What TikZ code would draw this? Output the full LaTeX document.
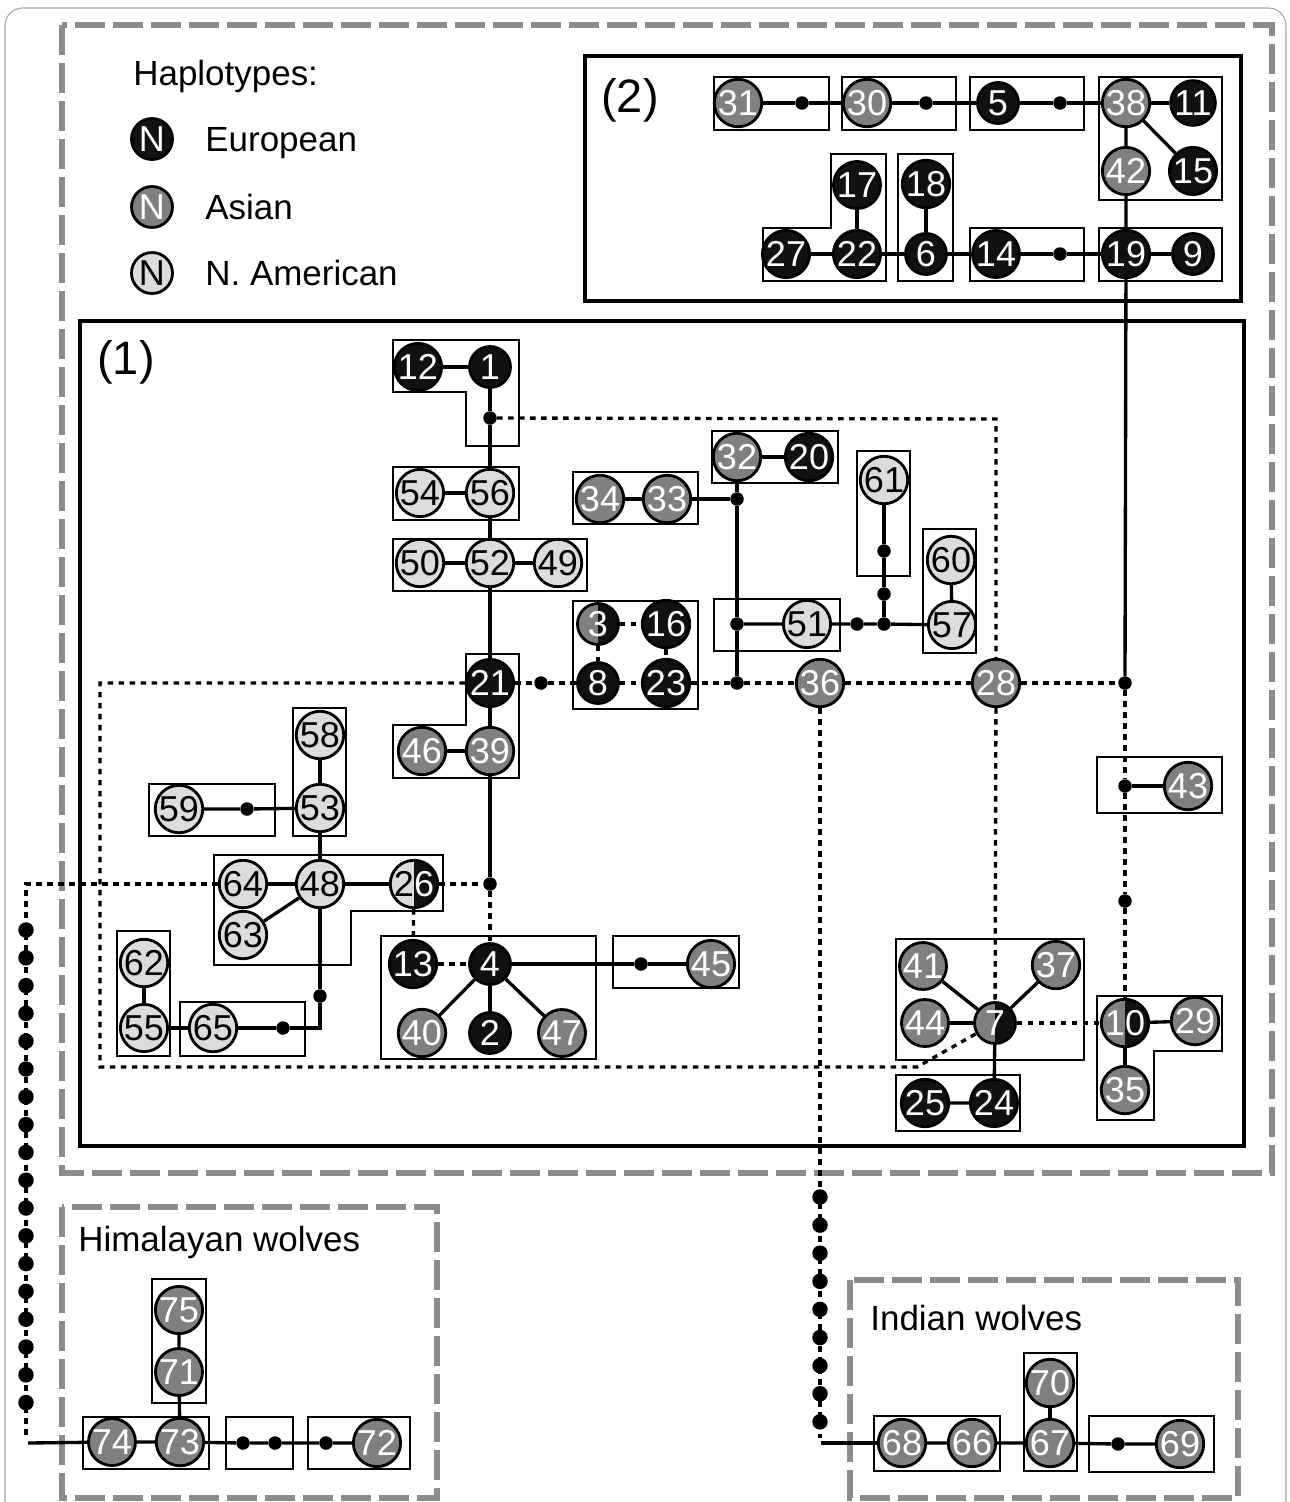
\documentclass[tikz,border=0pt]{standalone}
\usepackage{fontspec}
\setmainfont{Liberation Sans}
\usepackage{tikz}
\usetikzlibrary{positioning}
\definecolor{eurocol}{RGB}{17,17,17}
\definecolor{asiacol}{RGB}{128,128,128}
\definecolor{namcol}{RGB}{220,220,220}
\definecolor{framegray}{RGB}{140,140,140}

\begin{document}
\begin{tikzpicture}[
    x=0.02cm, y=-0.02cm,
    % Styles
    hap/.style={circle, draw=black, line width=1.6pt, minimum size=0.82cm, inner sep=0pt, font=\fontsize{20.5}{22}\selectfont},
    eu/.style={hap, fill=eurocol, text=white},
    as/.style={hap, fill=asiacol, text=white},
    na/.style={hap, fill=namcol, text=black},
    half/.style={hap, fill=#1, text=white, path picture={\fill[eurocol] (path picture bounding box.north) rectangle (path picture bounding box.south east);}},
    mv/.style={circle, fill=black, minimum size=0.27cm, inner sep=0pt},
    chaindot/.style={circle, fill=black, minimum size=0.31cm, inner sep=0pt},
    bond/.style={line width=1.9pt},
    link/.style={line width=1.9pt, dash pattern=on 0.11cm off 0.11cm},
    grp/.style={draw=black, line width=1.3pt},
    region/.style={draw=black, line width=2.8pt},
    zone/.style={draw=framegray, line width=3.7pt, dash pattern=on 0.6cm off 0.16cm},
    lbl/.style={font=\fontsize{19.9}{24}\selectfont, anchor=base west, inner sep=0pt},
    tag/.style={font=\fontsize{26.7}{30}\selectfont, anchor=west, inner sep=0pt}
]
\useasboundingbox (0,0) rectangle (1289,1502);

% FRAMES
\draw[draw=gray!70, line width=0.6pt, rounded corners=0.35cm] (5,1540) -- (5,8) -- (1286,8) -- (1286,1540);
\draw[zone] (62,25) rectangle (1272,1173);
\draw[zone] (62,1207) rectangle (437,1498);
\draw[zone] (850,1280) rectangle (1238,1498);
\draw[region] (585,56) rectangle (1241,301);
\draw[region] (80,321) rectangle (1244,1146);

\node[tag] (tag2) at (601,100) {(2)};
\node[tag] (tag1) at (97,362) {(1)};
\node[lbl] (him_txt) at (78,1251) {Himalayan wolves};
\node[lbl] (ind_txt) at (870,1330) {Indian wolves};

% 1. LEGEND
\node[lbl] (leg_title) at (133,85) {Haplotypes:};
\node[eu] (leg_eu) at (152,139) {N};
\node[lbl] (leg_eu_txt) at (205,151) {European};
\node[as] (leg_as) at (152,207) {N};
\node[lbl] (leg_as_txt) at (205,219) {Asian};
\node[na] (leg_na) at (152,273) {N};
\node[lbl] (leg_na_txt) at (205,285) {N. American};

% 2. GROUP BOXES
% network (2)
\draw[grp] (714,77) rectangle (829,130);
\draw[grp] (842,77) rectangle (956,130);
\draw[grp] (970,77) rectangle (1084,130);
\draw[grp] (1099,77) rectangle (1222,200);
\draw[grp] (763,228) -- (831,228) -- (831,154) -- (886,154) -- (886,281) -- (763,281) -- cycle;
\draw[grp] (898,154) rectangle (953,281);
\draw[grp] (970,228) rectangle (1084,281);
\draw[grp] (1099,228) rectangle (1222,281);
% network (1)
\draw[grp] (393,340) -- (519,340) -- (519,446) -- (466,446) -- (466,392) -- (393,392) -- cycle;
\draw[grp] (393,467) rectangle (519,520);
\draw[grp] (393,539) rectangle (587,591);
\draw[grp] (466,654) -- (519,654) -- (519,778) -- (393,778) -- (393,725) -- (466,725) -- cycle;
\draw[grp] (573,472) rectangle (698,524);
\draw[grp] (712,431) rectangle (838,483);
\draw[grp] (573,601) rectangle (698,709);
\draw[grp] (714,599) rectangle (840,651);
\draw[grp] (857,451) rectangle (910,576);
\draw[grp] (923,529) rectangle (976,653);
\draw[grp] (1097,757) rectangle (1222,813);
\draw[grp] (896,939) rectangle (1084,1060);
\draw[grp] (896,1075) rectangle (1020,1131);
\draw[grp] (1097,996) -- (1222,996) -- (1222,1051) -- (1154,1051) -- (1154,1120) -- (1097,1120) -- cycle;
\draw[grp] (381,936) rectangle (596,1059);
\draw[grp] (613,936) rectangle (739,988);
\draw[grp] (293,708) rectangle (346,836);
\draw[grp] (149,784) rectangle (275,836);
\draw[grp] (214,855) -- (443,855) -- (443,911) -- (351,911) -- (351,965) -- (214,965) -- cycle;
\draw[grp] (117,931) rectangle (170,1056);
\draw[grp] (180,1002) rectangle (305,1056);
% wolves
\draw[grp] (152,1279) rectangle (206,1403);
\draw[grp] (83,1417) rectangle (209,1469);
\draw[grp] (226,1417) rectangle (293,1469);
\draw[grp] (308,1417) rectangle (410,1469);
\draw[grp] (874,1416) rectangle (1000,1471);
\draw[grp] (1024,1353) rectangle (1077,1471);
\draw[grp] (1089,1416) rectangle (1214,1472);

% 3. HAPLOTYPES (2)
\node[as] (h31) at (738,103) {31};
\node[mv] (mv_a) at (802,103) {};
\node[as] (h30) at (867,103) {30};
\node[mv] (mv_b) at (926,103) {};
\node[eu] (h5) at (998,103) {5};
\node[mv] (mv_c) at (1060,103) {};
\node[as] (h38) at (1126,103) {38};
\node[eu] (h11) at (1193,103) {11};
\node[as] (h42) at (1126,171) {42};
\node[eu] (h15) at (1193,171) {15};
\node[eu] (h17) at (857,185) {17};
\node[eu] (h18) at (926,184) {18};
\node[eu] (h27) at (786,254) {27};
\node[eu] (h22) at (857,254) {22};
\node[eu] (h6) at (926,254) {6};
\node[eu] (h14) at (996,254) {14};
\node[mv] (mv_d) at (1060,254) {};
\node[eu] (h19) at (1126,254) {19};
\node[eu] (h9) at (1193,254) {9};

% 4. HAPLOTYPES (1)
\node[eu] (h12) at (418,367) {12};
\node[eu] (h1) at (490,367) {1};
\node[mv] (mv1) at (490,418) {};
\node[na] (h54) at (420,493) {54};
\node[na] (h56) at (490,493) {56};
\node[na] (h50) at (420,563) {50};
\node[na] (h52) at (490,563) {52};
\node[na] (h49) at (558,563) {49};
\node[eu] (h21) at (490,683) {21};
\node[mv] (mv2) at (541,683) {};
\node[as] (h46) at (422,751) {46};
\node[as] (h39) at (490,751) {39};
\node[as] (h34) at (600,499) {34};
\node[as] (h33) at (667,499) {33};
\node[mv] (mv3) at (737,499) {};
\node[as] (h32) at (737,457) {32};
\node[eu] (h20) at (809,457) {20};
\node[half=asiacol] (h3) at (598,624) {3};
\node[eu] (h16) at (666,624) {16};
\node[eu] (h8) at (598,683) {8};
\node[eu] (h23) at (666,683) {23};
\node[mv] (mv4) at (737,624) {};
\node[mv] (mv5) at (737,683) {};
\node[na] (h51) at (807,624) {51};
\node[mv] (mv6) at (857,624) {};
\node[mv] (mv7) at (884,624) {};
\node[mv] (mv8) at (884,594) {};
\node[mv] (mv9) at (884,551) {};
\node[na] (h61) at (884,480) {61};
\node[na] (h60) at (951,560) {60};
\node[na] (h57) at (952,625) {57};
\node[as] (h36) at (820,683) {36};
\node[as] (h28) at (996,683) {28};
\node[mv] (mv10) at (1125,683) {};
\node[mv] (mv11) at (1125,786) {};
\node[as] (h43) at (1188,786) {43};
\node[mv] (mv12) at (1125,901) {};
\node[as] (h41) at (923,966) {41};
\node[as] (h37) at (1056,965) {37};
\node[as] (h44) at (925,1023) {44};
\node[half=asiacol] (h7) at (995,1023) {7};
\node[eu] (h25) at (925,1103) {25};
\node[eu] (h24) at (994,1103) {24};
\node[half=asiacol] (h10) at (1125,1023) {10};
\node[as] (h29) at (1195,1021) {29};
\node[as] (h35) at (1125,1090) {35};
\node[na] (h58) at (320,735) {58};
\node[na] (h53) at (320,808) {53};
\node[mv] (mv15) at (247,809) {};
\node[na] (h59) at (179,809) {59};
\node[na] (h64) at (243,884) {64};
\node[na] (h48) at (320,884) {48};
\node[half=namcol] (h26) at (414,884) {\color{black}2\color{white}6};
\node[na] (h63) at (243,935) {63};
\node[mv] (mv13) at (490,884) {};
\node[na] (h62) at (144,963) {62};
\node[na] (h55) at (144,1028) {55};
\node[na] (h65) at (213,1028) {65};
\node[mv] (mv16) at (320,996) {};
\node[mv] (mv17) at (283,1028) {};
\coordinate (c48) at (320,1028);
\node[eu] (h13) at (413,964) {13};
\node[eu] (h4) at (490,964) {4};
\node[as] (h40) at (422,1033) {40};
\node[eu] (h2) at (490,1033) {2};
\node[as] (h47) at (562,1033) {47};
\node[mv] (mv14) at (641,964) {};
\node[as] (h45) at (711,964) {45};

% 5. HIMALAYAN AND INDIAN WOLVES
\node[as] (h75) at (179,1310) {75};
\node[as] (h71) at (179,1372) {71};
\node[as] (h74) at (112,1442) {74};
\node[as] (h73) at (180,1442) {73};
\node[mv] (mv_h1) at (243,1443) {};
\node[mv] (mv_h2) at (275,1443) {};
\node[mv] (mv_h3) at (326,1443) {};
\node[as] (h72) at (377,1443) {72};
\node[as] (h68) at (902,1443) {68};
\node[as] (h66) at (972,1443) {66};
\node[as] (h67) at (1050,1443) {67};
\node[as] (h70) at (1050,1383) {70};
\node[mv] (mv_i1) at (1118,1444) {};
\node[as] (h69) at (1180,1444) {69};

% CONNECTIONS (2)
\draw[bond] (h31) -- (mv_a) -- (h30) -- (mv_b) -- (h5) -- (mv_c) -- (h38) -- (h11);
\draw[bond] (h38) -- (h15);
\draw[bond] (h38) -- (h42) -- (h19) -- (mv10);
\draw[bond] (h27) -- (h22) -- (h6) -- (h14) -- (mv_d) -- (h19) -- (h9);
\draw[bond] (h17) -- (h22);
\draw[bond] (h18) -- (h6);

% CONNECTIONS (1)
\coordinate (c28) at (996,419);
\coordinate (lp_a) at (100,683);
\coordinate (lp_b) at (100,1067);
\coordinate (lp_c) at (917,1067);
\draw[bond] (h12) -- (h1) -- (mv1) -- (h56) -- (h52) -- (h21) -- (h39) -- (mv13);
\draw[bond] (h54) -- (h56);
\draw[bond] (h50) -- (h52) -- (h49);
\draw[bond] (h46) -- (h39);
\draw[link] (mv1) -- (c28) -- (h28);
\draw[link] (h21) -- (mv2) -- (h8) -- (h23) -- (mv5) -- (h36) -- (h28) -- (mv10);
\draw[link] (h21) -- (lp_a) -- (lp_b) -- (lp_c) -- (h7);
\draw[link] (h3) -- (h16);
\draw[link] (h3) -- (h8);
\draw[link] (h16) -- (h23);
\draw[bond] (h34) -- (h33) -- (mv3);
\draw[bond] (h20) -- (h32) -- (mv3) -- (mv4) -- (mv5);
\draw[bond] (mv4) -- (h51) -- (mv6) -- (mv7) -- (h57);
\draw[bond] (mv7) -- (mv8) -- (mv9) -- (h61);
\draw[bond] (h60) -- (h57);
\draw[link] (mv10) -- (mv11) -- (mv12) -- (h10);
\draw[bond] (mv11) -- (h43);
\draw[bond] (h10) -- (h29);
\draw[bond] (h10) -- (h35);
\draw[link] (h28) -- (h7);
\draw[link] (h7) -- (h10);
\draw[bond] (h41) -- (h7);
\draw[bond] (h37) -- (h7);
\draw[bond] (h44) -- (h7);
\draw[bond] (h7) -- (h24) -- (h25);
\draw[link] (h26) -- (mv13) -- (h4);
\draw[link] (h26) -- (h13);
\draw[link] (h13) -- (h4);
\draw[bond] (h4) -- (h40);
\draw[bond] (h4) -- (h2);
\draw[bond] (h4) -- (h47);
\draw[bond] (h4) -- (mv14) -- (h45);
\draw[bond] (h58) -- (h53) -- (h48);
\draw[bond] (h59) -- (mv15) -- (h53);
\draw[bond] (h64) -- (h48) -- (h26);
\draw[bond] (h48) -- (h63);
\draw[bond] (h48) -- (mv16) -- (c48) -- (mv17) -- (h65);
\draw[bond] (h62) -- (h55) -- (h65);

% LINKS TO THE WOLVES
\coordinate (lc_top) at (26,884);
\coordinate (lc_bot) at (26,1438);
\coordinate (lc_end) at (28,1443);
\coordinate (rc_bot) at (820,1438);
\coordinate (rc_end) at (821,1443);
\draw[link] (h64) -- (lc_top) -- (lc_bot);
\draw[bond] (lc_end) -- (h74);
\foreach \i in {0,...,17}
    \node[chaindot] (lc\i) at (26,{930+27.8*\i}) {};
\draw[link] (h36) -- (rc_bot);
\draw[bond] (rc_end) -- (h68);
\foreach \i in {0,...,8}
    \node[chaindot] (rc\i) at (820,{1197+28.1*\i}) {};

\draw[bond] (h75) -- (h71) -- (h73);
\draw[bond] (h74) -- (h73) -- (mv_h1) -- (mv_h2) -- (mv_h3) -- (h72);
\draw[bond] (h68) -- (h66) -- (h67) -- (mv_i1) -- (h69);
\draw[bond] (h70) -- (h67);

\end{tikzpicture}
\end{document}
